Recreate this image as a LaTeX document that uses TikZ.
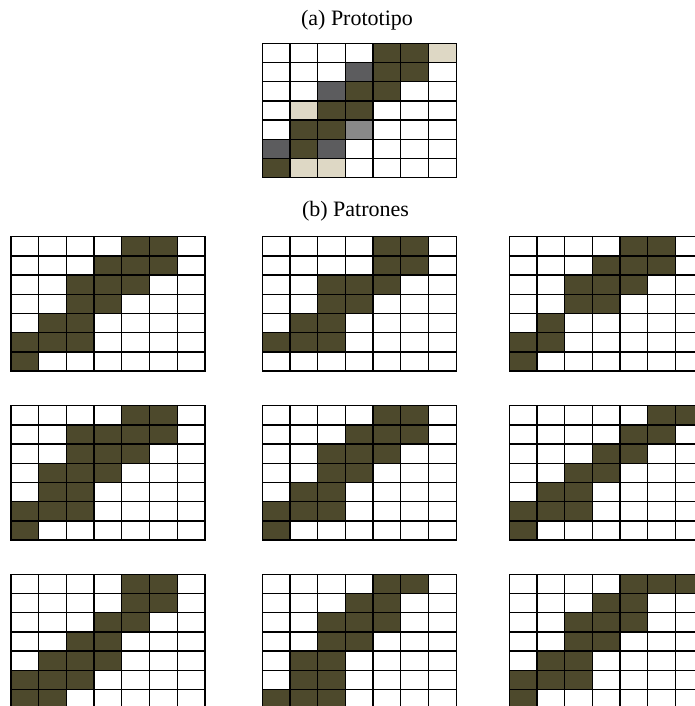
\documentclass[tikz,border=0pt]{standalone}
\usepackage{fontspec}
\setmainfont{Liberation Serif}
\definecolor{oliva}{RGB}{77,73,44}
\definecolor{gris}{RGB}{92,92,94}
\definecolor{grisclaro}{RGB}{136,136,136}
\definecolor{crema}{RGB}{222,216,197}
\tikzset{rejilla/.style={line width=1.3pt, line cap=rect},
    titulo/.style={font=\fontsize{22}{26}\selectfont, anchor=base}}
% patron: x, y, celdas llenas (fila/columna)
\newcommand{\patron}[3]{%
    \begin{scope}[shift={(#1,#2)}, x=27.7pt, y=-19.2pt]
        \foreach \f/\c in {#3} \fill[oliva] (\c-1,\f-1) rectangle (\c,\f);
        \foreach \i in {0,...,7} {
            \draw[rejilla] (\i,0) -- (\i,7);
            \draw[rejilla] (0,\i) -- (7,\i);
        }
    \end{scope}}
\begin{document}
\begin{tikzpicture}[x=1pt, y=-1pt]
    \useasboundingbox (0,0) rectangle (695,706);
    \clip (0,0) rectangle (695,706);
    \node[titulo] (proto) at (357,26) {(a) Prototipo};
    \node[titulo] (patrones) at (355.5,216) {(b) Patrones};
    % prototipo
    \begin{scope}[shift={(262.3,43.3)}, x=27.7pt, y=-19.2pt]
        \foreach \f/\c/\col in {1/7/crema, 4/2/crema, 7/2/crema, 7/3/crema, 2/4/gris, 3/3/gris, 6/1/gris, 6/3/gris, 5/4/grisclaro}
            \fill[\col] (\c-1,\f-1) rectangle (\c,\f);
    \end{scope}
    \patron{262.3}{43.3}{1/5,1/6,2/5,2/6,3/4,3/5,4/3,4/4,5/2,5/3,6/2,7/1}
    % patrones
    \patron{11}{236.7}{1/5,1/6,2/4,2/5,2/6,3/3,3/4,3/5,4/3,4/4,5/2,5/3,6/1,6/2,6/3,7/1}
    \patron{262.3}{236.7}{1/5,1/6,2/5,2/6,3/3,3/4,3/5,4/3,4/4,5/2,5/3,6/1,6/2,6/3}
    \patron{509.3}{236.7}{1/5,1/6,2/4,2/5,2/6,3/3,3/4,3/5,4/3,4/4,5/2,6/1,6/2,7/1}
    \patron{11}{405.7}{1/5,1/6,2/3,2/4,2/5,2/6,3/3,3/4,3/5,4/2,4/3,4/4,5/2,5/3,6/1,6/2,6/3,7/1}
    \patron{262.3}{405.7}{1/5,1/6,2/4,2/5,2/6,3/3,3/4,3/5,4/3,4/4,5/2,5/3,6/1,6/2,6/3,7/1}
    \patron{509.3}{405.7}{1/6,1/7,2/5,2/6,3/4,3/5,4/3,4/4,5/2,5/3,6/1,6/2,6/3,7/1}
    \patron{11}{574.3}{1/5,1/6,2/5,2/6,3/4,3/5,4/3,4/4,5/2,5/3,5/4,6/1,6/2,6/3,7/1,7/2}
    \patron{262.3}{574.3}{1/5,1/6,2/4,2/5,3/3,3/4,3/5,4/3,4/4,5/2,5/3,6/2,6/3,7/1,7/2,7/3}
    \patron{509.3}{574.3}{1/5,1/6,1/7,2/4,2/5,3/3,3/4,3/5,4/3,4/4,5/2,5/3,6/1,6/2,6/3,7/1}
\end{tikzpicture}
\end{document}
